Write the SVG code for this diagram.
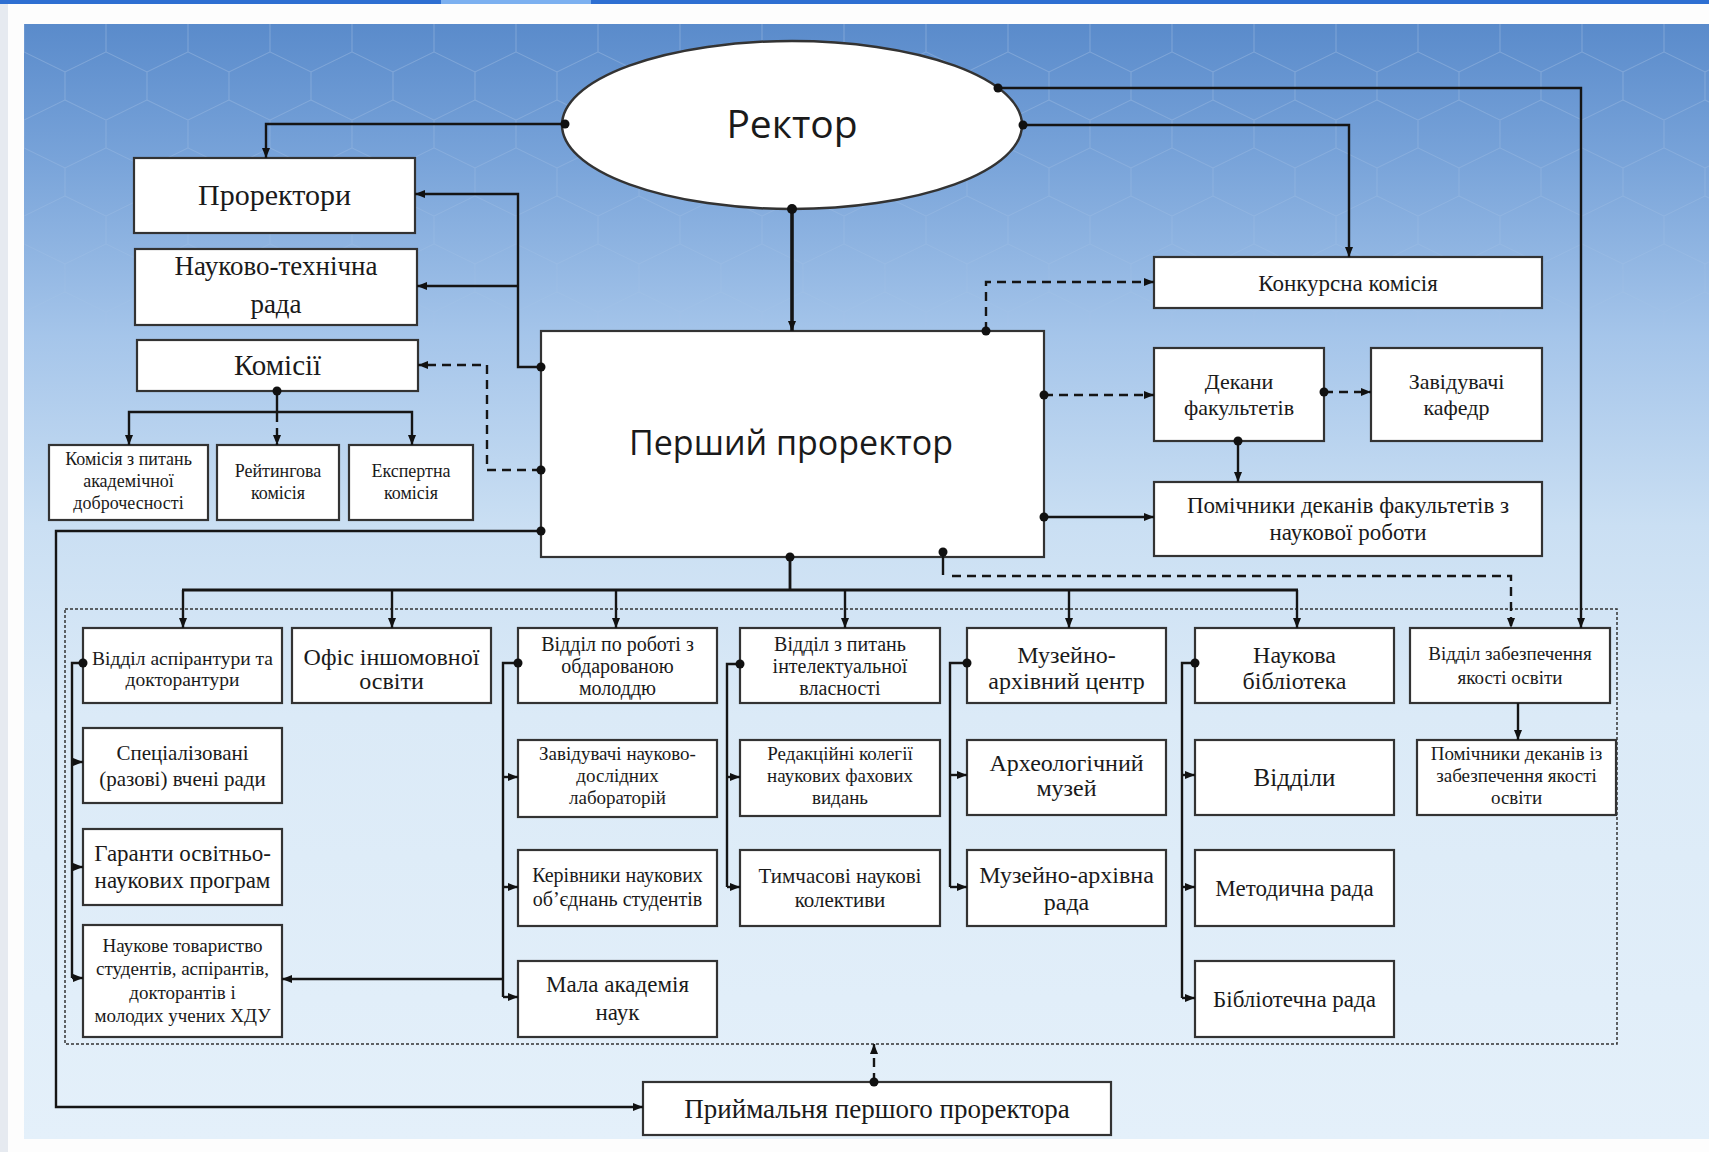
<svg xmlns="http://www.w3.org/2000/svg" width="1709" height="1152" viewBox="0 0 1709 1152">
<defs>
<linearGradient id="bg" x1="0" y1="0" x2="0" y2="1">
<stop offset="0" stop-color="#5a8bcb"/>
<stop offset="0.12" stop-color="#78a3d9"/>
<stop offset="0.28" stop-color="#a5c5ea"/>
<stop offset="0.45" stop-color="#cadff3"/>
<stop offset="0.62" stop-color="#dbeaf7"/>
<stop offset="1" stop-color="#e4f0fa"/>
</linearGradient>
<linearGradient id="fade" x1="0" y1="0" x2="0" y2="1">
<stop offset="0" stop-color="#fff" stop-opacity="1"/>
<stop offset="1" stop-color="#fff" stop-opacity="0"/>
</linearGradient>
<pattern id="hex" width="82" height="96" patternUnits="userSpaceOnUse" x="24" y="24">
<path d="M0,0 V28 L41,48 L82,28 V0 M41,48 V76 L0,96 M41,76 L82,96" fill="none" stroke="#ffffff" stroke-opacity="0.2" stroke-width="1.1"/>
</pattern>
<mask id="fm"><rect x="24" y="24" width="1685" height="330" fill="url(#fade)"/></mask>
<marker id="ar" viewBox="0 0 10 8" refX="10" refY="4" markerWidth="10" markerHeight="8" markerUnits="userSpaceOnUse" orient="auto">
<path d="M0,0 L10,4 L0,8 z" fill="#111"/>
</marker>
<style>
.bx{fill:#fff;stroke:#333;stroke-width:2.2}
.el{fill:#fff;stroke:#333;stroke-width:2.5}
.t{font-family:"Liberation Serif","Times New Roman",serif;fill:#1a1a1a;text-anchor:middle}
.s{font-family:"Open Sans","Liberation Sans",sans-serif;fill:#1a1a1a;text-anchor:middle}
.c{fill:none;stroke:#151515;stroke-width:2.4}
.k{stroke-width:3.6}
.m{stroke-width:2.8}
.d{stroke-dasharray:9 6}
.dot{fill:#111}
.f18{font-size:18px}.f19{font-size:19px}.f195{font-size:19.5px}.f20{font-size:20px}.f21{font-size:21px}.f23{font-size:23px}
.f22{font-size:22px}.f24{font-size:24px}.f25{font-size:25px}.f27{font-size:27px}.f29{font-size:29px}.f30{font-size:30px}
</style>
</defs>

<rect x="0" y="0" width="1709" height="1152" fill="#fdfdfd"/>
<rect x="0" y="0" width="8" height="1152" fill="#e6eaf0"/>
<rect x="0" y="0" width="1709" height="4" fill="#2e6fd2"/>
<rect x="441" y="0" width="150" height="4" fill="#7cb0f0"/>
<rect x="24" y="24" width="1685" height="1115" fill="url(#bg)"/>
<rect x="24" y="24" width="1685" height="330" fill="url(#hex)" mask="url(#fm)"/>

<rect id="container" x="65" y="609" width="1552" height="435" fill="none" stroke="#333" stroke-width="1.5" stroke-dasharray="3 2"/>

<g id="n-rektor"><ellipse class="el" cx="792" cy="125" rx="230" ry="84"/><text class="s" font-size="39" x="792" y="138">Ректор</text></g>
<g id="n-prorektory"><rect class="bx" x="134" y="158" width="281" height="75"/><text class="t f30" x="274.5" y="205">Проректори</text></g>
<g id="n-ntr"><rect class="bx" x="135" y="249" width="282" height="76"/><text class="t f27"><tspan x="276" y="275">Науково-технічна</tspan><tspan x="276" y="313">рада</tspan></text></g>
<g id="n-komisii"><rect class="bx" x="137" y="340" width="281" height="51"/><text class="t f29" x="277.5" y="375">Комісії</text></g>
<g id="n-k1"><rect class="bx" x="49" y="445" width="159" height="75"/><text class="t f18"><tspan x="128.5" y="465">Комісія з питань</tspan><tspan x="128.5" y="487">академічної</tspan><tspan x="128.5" y="509">доброчесності</tspan></text></g>
<g id="n-k2"><rect class="bx" x="217" y="445" width="122" height="75"/><text class="t f18"><tspan x="278" y="477">Рейтингова</tspan><tspan x="278" y="499">комісія</tspan></text></g>
<g id="n-k3"><rect class="bx" x="349" y="445" width="124" height="75"/><text class="t f18"><tspan x="411" y="477">Експертна</tspan><tspan x="411" y="499">комісія</tspan></text></g>

<g id="n-pershyi"><rect class="bx" x="541" y="331" width="503" height="226"/><text class="s" font-size="34" x="791" y="455">Перший проректор</text></g>

<g id="n-konkurs"><rect class="bx" x="1154" y="257" width="388" height="51"/><text class="t f23" x="1348" y="291">Конкурсна комісія</text></g>
<g id="n-dekany"><rect class="bx" x="1154" y="348" width="170" height="93"/><text class="t f22"><tspan x="1239" y="389">Декани</tspan><tspan x="1239" y="415">факультетів</tspan></text></g>
<g id="n-kafedry"><rect class="bx" x="1371" y="348" width="171" height="93"/><text class="t f22"><tspan x="1456.5" y="389">Завідувачі</tspan><tspan x="1456.5" y="415">кафедр</tspan></text></g>
<g id="n-pomichnyky"><rect class="bx" x="1154" y="482" width="388" height="74"/><text class="t f23"><tspan x="1348" y="513">Помічники деканів факультетів з</tspan><tspan x="1348" y="540">наукової роботи</tspan></text></g>

<g id="n-aspirantura"><rect class="bx" x="83" y="628" width="199" height="75"/><text class="t f195"><tspan x="182.5" y="665">Відділ аспірантури та</tspan><tspan x="182.5" y="686">докторантури</tspan></text></g>
<g id="n-ofis"><rect class="bx" x="292" y="628" width="199" height="75"/><text class="t f24"><tspan x="391.5" y="665">Офіс іншомовної</tspan><tspan x="391.5" y="689">освіти</tspan></text></g>
<g id="n-obdarovani"><rect class="bx" x="518" y="628" width="199" height="75"/><text class="t f20"><tspan x="617.5" y="651">Відділ по роботі з</tspan><tspan x="617.5" y="673">обдарованою</tspan><tspan x="617.5" y="695">молоддю</tspan></text></g>
<g id="n-intelekt"><rect class="bx" x="740" y="628" width="200" height="75"/><text class="t f20"><tspan x="840" y="651">Відділ з питань</tspan><tspan x="840" y="673">інтелектуальної</tspan><tspan x="840" y="695">власності</tspan></text></g>
<g id="n-muzei-centr"><rect class="bx" x="967" y="628" width="199" height="75"/><text class="t f24"><tspan x="1066.5" y="663">Музейно-</tspan><tspan x="1066.5" y="689">архівний центр</tspan></text></g>
<g id="n-biblioteka"><rect class="bx" x="1195" y="628" width="199" height="75"/><text class="t f24"><tspan x="1294.5" y="663">Наукова</tspan><tspan x="1294.5" y="689">бібліотека</tspan></text></g>
<g id="n-yakist"><rect class="bx" x="1410" y="628" width="200" height="75"/><text class="t f19"><tspan x="1510" y="660">Відділ забезпечення</tspan><tspan x="1510" y="684">якості освіти</tspan></text></g>
<g id="n-pom-yakist"><rect class="bx" x="1417" y="740" width="199" height="75"/><text class="t f19"><tspan x="1516.5" y="760">Помічники деканів із</tspan><tspan x="1516.5" y="782">забезпечення якості</tspan><tspan x="1516.5" y="804">освіти</tspan></text></g>

<g id="n-specrady"><rect class="bx" x="83" y="728" width="199" height="75"/><text class="t f21"><tspan x="182.5" y="760">Спеціалізовані</tspan><tspan x="182.5" y="786">(разові) вчені ради</tspan></text></g>
<g id="n-garanty"><rect class="bx" x="83" y="829" width="199" height="76"/><text class="t f23"><tspan x="182.5" y="861">Гаранти освітньо-</tspan><tspan x="182.5" y="888">наукових програм</tspan></text></g>
<g id="n-tovarystvo"><rect class="bx" x="83" y="925" width="199" height="112"/><text class="t f19"><tspan x="182.5" y="952">Наукове товариство</tspan><tspan x="182.5" y="975">студентів, аспірантів,</tspan><tspan x="182.5" y="999">докторантів і</tspan><tspan x="182.5" y="1022">молодих учених ХДУ</tspan></text></g>

<g id="n-laboratorii"><rect class="bx" x="518" y="740" width="199" height="77"/><text class="t f19"><tspan x="617.5" y="760">Завідувачі науково-</tspan><tspan x="617.5" y="782">дослідних</tspan><tspan x="617.5" y="804">лабораторій</tspan></text></g>
<g id="n-kerivnyky"><rect class="bx" x="518" y="850" width="199" height="76"/><text class="t f20"><tspan x="617.5" y="882">Керівники наукових</tspan><tspan x="617.5" y="906">об’єднань студентів</tspan></text></g>
<g id="n-man"><rect class="bx" x="518" y="961" width="199" height="76"/><text class="t f23"><tspan x="617.5" y="992">Мала академія</tspan><tspan x="617.5" y="1020">наук</tspan></text></g>

<g id="n-redkolegii"><rect class="bx" x="740" y="740" width="200" height="76"/><text class="t f19"><tspan x="840" y="760">Редакційні колегії</tspan><tspan x="840" y="782">наукових фахових</tspan><tspan x="840" y="804">видань</tspan></text></g>
<g id="n-tymchasovi"><rect class="bx" x="740" y="850" width="200" height="76"/><text class="t f21"><tspan x="840" y="883">Тимчасові наукові</tspan><tspan x="840" y="907">колективи</tspan></text></g>

<g id="n-arheol"><rect class="bx" x="967" y="740" width="199" height="75"/><text class="t f24"><tspan x="1066.5" y="771">Археологічний</tspan><tspan x="1066.5" y="796">музей</tspan></text></g>
<g id="n-muzei-rada"><rect class="bx" x="967" y="850" width="199" height="76"/><text class="t f24"><tspan x="1066.5" y="883">Музейно-архівна</tspan><tspan x="1066.5" y="910">рада</tspan></text></g>

<g id="n-viddily"><rect class="bx" x="1195" y="740" width="199" height="75"/><text class="t f25" x="1294.5" y="786">Відділи</text></g>
<g id="n-metod"><rect class="bx" x="1195" y="850" width="199" height="76"/><text class="t f23" x="1294.5" y="896">Методична рада</text></g>
<g id="n-bibl-rada"><rect class="bx" x="1195" y="961" width="199" height="76"/><text class="t f23" x="1294.5" y="1007">Бібліотечна рада</text></g>

<g id="n-pryimalnia"><rect class="bx" x="643" y="1082" width="468" height="53"/><text class="t f27" x="877" y="1118">Приймальня першого проректора</text></g>

<g id="connectors">
<path class="c" d="M565,124 H266 V158" marker-end="url(#ar)"/>
<path class="c" d="M1023,125 H1349 V257" marker-end="url(#ar)"/>
<path class="c" d="M998,88 H1581 V628" marker-end="url(#ar)"/>
<path class="c k" d="M792,209 V331" marker-end="url(#ar)"/>
<path class="c" d="M541,367 H518 V194 H415" marker-end="url(#ar)"/>
<path class="c" d="M518,286 H417" marker-end="url(#ar)"/>
<path class="c d" d="M541,470 H487 V365 H418" marker-end="url(#ar)"/>
<path class="c" d="M277,391 V412"/>
<path class="c" d="M277,412 H129 V445" marker-end="url(#ar)"/>
<path class="c" d="M277,412 H412 V445" marker-end="url(#ar)"/>
<path class="c d" d="M277,413 V445" marker-end="url(#ar)"/>
<path class="c" d="M541,531 H56 V1107 H643" marker-end="url(#ar)"/>
<path class="c d" d="M986,331 V282 H1154" marker-end="url(#ar)"/>
<path class="c d" d="M1044,395 H1154" marker-end="url(#ar)"/>
<path class="c" d="M1044,517 H1154" marker-end="url(#ar)"/>
<path class="c d" d="M1324,392 H1371" marker-end="url(#ar)"/>
<path class="c" d="M1238,441 V482" marker-end="url(#ar)"/>
<path class="c m" d="M790,557 V590 M182,590 H1298"/>
<path class="c" d="M183,590 V628" marker-end="url(#ar)"/>
<path class="c" d="M392,590 V628" marker-end="url(#ar)"/>
<path class="c" d="M616,590 V628" marker-end="url(#ar)"/>
<path class="c" d="M845,590 V628" marker-end="url(#ar)"/>
<path class="c" d="M1069,590 V628" marker-end="url(#ar)"/>
<path class="c" d="M1297,590 V628" marker-end="url(#ar)"/>
<path class="c" d="M943,552 V575"/>
<path class="c d" d="M952,576 H1511 V628" marker-end="url(#ar)"/>
<path class="c" d="M1518,703 V740" marker-end="url(#ar)"/>
<path class="c" d="M83,663 H72 V978"/>
<path class="c" d="M72,762 H83" marker-end="url(#ar)"/>
<path class="c" d="M72,867 H83" marker-end="url(#ar)"/>
<path class="c" d="M72,978 H83" marker-end="url(#ar)"/>
<path class="c" d="M518,663 H503 V997"/>
<path class="c" d="M503,777 H518" marker-end="url(#ar)"/>
<path class="c" d="M503,887 H518" marker-end="url(#ar)"/>
<path class="c" d="M503,997 H518" marker-end="url(#ar)"/>
<path class="c" d="M503,979 H282" marker-end="url(#ar)"/>
<path class="c" d="M740,664 H727 V887"/>
<path class="c" d="M727,777 H740" marker-end="url(#ar)"/>
<path class="c" d="M727,887 H740" marker-end="url(#ar)"/>
<path class="c" d="M967,663 H950 V887"/>
<path class="c" d="M950,775 H967" marker-end="url(#ar)"/>
<path class="c" d="M950,887 H967" marker-end="url(#ar)"/>
<path class="c" d="M1195,663 H1182 V998"/>
<path class="c" d="M1182,775 H1195" marker-end="url(#ar)"/>
<path class="c" d="M1182,887 H1195" marker-end="url(#ar)"/>
<path class="c" d="M1182,998 H1195" marker-end="url(#ar)"/>
<path class="c d" d="M874,1082 V1044" marker-end="url(#ar)"/>
<g class="dot">
<circle cx="565" cy="124" r="4.5"/><circle cx="1023" cy="125" r="4.5"/><circle cx="998" cy="88" r="4.5"/>
<circle cx="792" cy="209" r="5"/><circle cx="541" cy="367" r="4.5"/><circle cx="541" cy="470" r="4.5"/>
<circle cx="277" cy="391" r="4.5"/><circle cx="541" cy="531" r="4.5"/><circle cx="986" cy="331" r="4.5"/>
<circle cx="1044" cy="395" r="4.5"/><circle cx="1044" cy="517" r="4.5"/><circle cx="1324" cy="392" r="4.5"/>
<circle cx="1238" cy="441" r="4.5"/><circle cx="790" cy="557" r="4.5"/><circle cx="943" cy="552" r="4.5"/>
<circle cx="83" cy="663" r="4.5"/><circle cx="518" cy="663" r="4.5"/><circle cx="740" cy="664" r="4.5"/>
<circle cx="967" cy="663" r="4.5"/><circle cx="1195" cy="663" r="4.5"/><circle cx="874" cy="1082" r="4.5"/>
</g>
</g>
</svg>
